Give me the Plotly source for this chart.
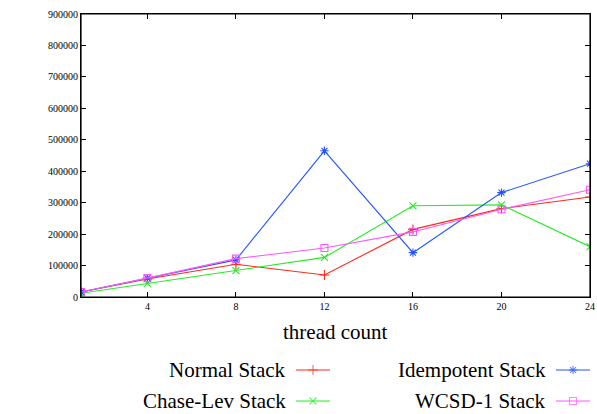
import plotly.graph_objects as go

threads = [1, 4, 8, 12, 16, 20, 24]
normal_stack = [16000, 57000, 104000, 70000, 215000, 281000, 318000]
chase_lev_stack = [12000, 43000, 84000, 126000, 290000, 293000, 160000]
idempotent_stack = [16000, 60000, 118000, 465000, 141000, 332000, 424000]
wcsd1_stack = [16000, 60000, 122000, 156000, 207000, 279000, 341000]

x_ticks = [4, 8, 12, 16, 20, 24]
y_ticks = list(range(0, 900001, 100000))

series = [
    ("Normal Stack", normal_stack, "#ff2a1a", "cross-thin-open"),
    ("Chase-Lev Stack", chase_lev_stack, "#22ee22", "x-thin-open"),
    ("Idempotent Stack", idempotent_stack, "#2255ff", "asterisk-open"),
    ("WCSD-1 Stack", wcsd1_stack, "#ff55ff", "square-open"),
]

FONT = "Liberation Serif"
W, H = 597, 414
PLOT_L, PLOT_R, PLOT_T, PLOT_B = 81, 590, 14, 297

fig = go.Figure()

for name, vals, color, sym in series:
    fig.add_trace(go.Scatter(
        x=threads, y=vals, mode="lines+markers", name=name,
        line=dict(color=color, width=1.1),
        marker=dict(symbol=sym, size=7, color=color, line=dict(color=color, width=1.1)),
        showlegend=False,
    ))

# gnuplot-style legend (text, then sample) drawn on an overlay axis in page-pixel units
leg_pos = [(288, 370), (288, 401), (548, 370), (548, 401)]
for (name, vals, color, sym), (tx, ty) in zip(series, leg_pos):
    fig.add_trace(go.Scatter(
        x=[tx + 8, tx + 25, tx + 42], y=[ty, ty, ty], mode="lines+markers",
        line=dict(color=color, width=1.1),
        marker=dict(symbol=sym, size=[0, 7, 0], color=color, line=dict(color=color, width=1.1)),
        xaxis="x2", yaxis="y2", showlegend=False, hoverinfo="skip",
    ))
    fig.add_annotation(
        x=tx, y=ty, xref="x2", yref="y2", text=name, showarrow=False,
        xanchor="right", yanchor="middle",
        font=dict(family=FONT, size=21, color="black"),
    )

fig.add_annotation(
    x=0.5, y=332, xref="x domain", yref="y2", text="thread count",
    showarrow=False, xanchor="center", yanchor="middle",
    font=dict(family=FONT, size=21, color="black"),
)
fig.add_annotation(
    x=22, y=0.5, xref="x2", yref="y domain", text="elements/msec (more is better)",
    showarrow=False, textangle=-90, xanchor="center", yanchor="middle",
    font=dict(family=FONT, size=21, color="black"),
)

# plot frame
fig.add_shape(type="rect", xref="x domain", yref="y domain", x0=0, x1=1, y0=0, y1=1,
              line=dict(color="black", width=1.2), layer="above")

m_l = PLOT_L
m_r = W - PLOT_R
m_t = PLOT_T
m_b = 0
paper_h = H - m_t - m_b
dom_bottom = (H - PLOT_B) / paper_h

fig.update_layout(
    width=W, height=H,
    margin=dict(l=m_l, r=m_r, t=m_t, b=m_b, autoexpand=False),
    paper_bgcolor="white", plot_bgcolor="rgba(0,0,0,0)",
    font=dict(family=FONT, color="black", size=10),
    xaxis=dict(
        range=[1, 24], tickvals=x_ticks, ticktext=[str(t) for t in x_ticks],
        domain=[0, 1], ticks="inside", ticklen=5, tickcolor="black",
        showline=True, linecolor="black", linewidth=1.2, mirror="ticks",
        showgrid=False, zeroline=False, tickfont=dict(family=FONT, size=10),
    ),
    yaxis=dict(
        range=[0, 900000], tickvals=y_ticks, ticktext=[str(t) for t in y_ticks],
        domain=[dom_bottom, 1], ticks="inside", ticklen=5, tickcolor="black",
        showline=True, linecolor="black", linewidth=1.2, mirror="ticks",
        showgrid=False, zeroline=False, tickfont=dict(family=FONT, size=10),
    ),
    xaxis2=dict(
        range=[PLOT_L, PLOT_R], domain=[0, 1], anchor="y2",
        visible=False, fixedrange=True,
    ),
    yaxis2=dict(
        range=[H, PLOT_B], domain=[0, dom_bottom], anchor="x2",
        visible=False, fixedrange=True,
    ),
)

fig.write_html("out.html", config={"displayModeBar": False},
               post_script="document.body.style.margin='0px';")
